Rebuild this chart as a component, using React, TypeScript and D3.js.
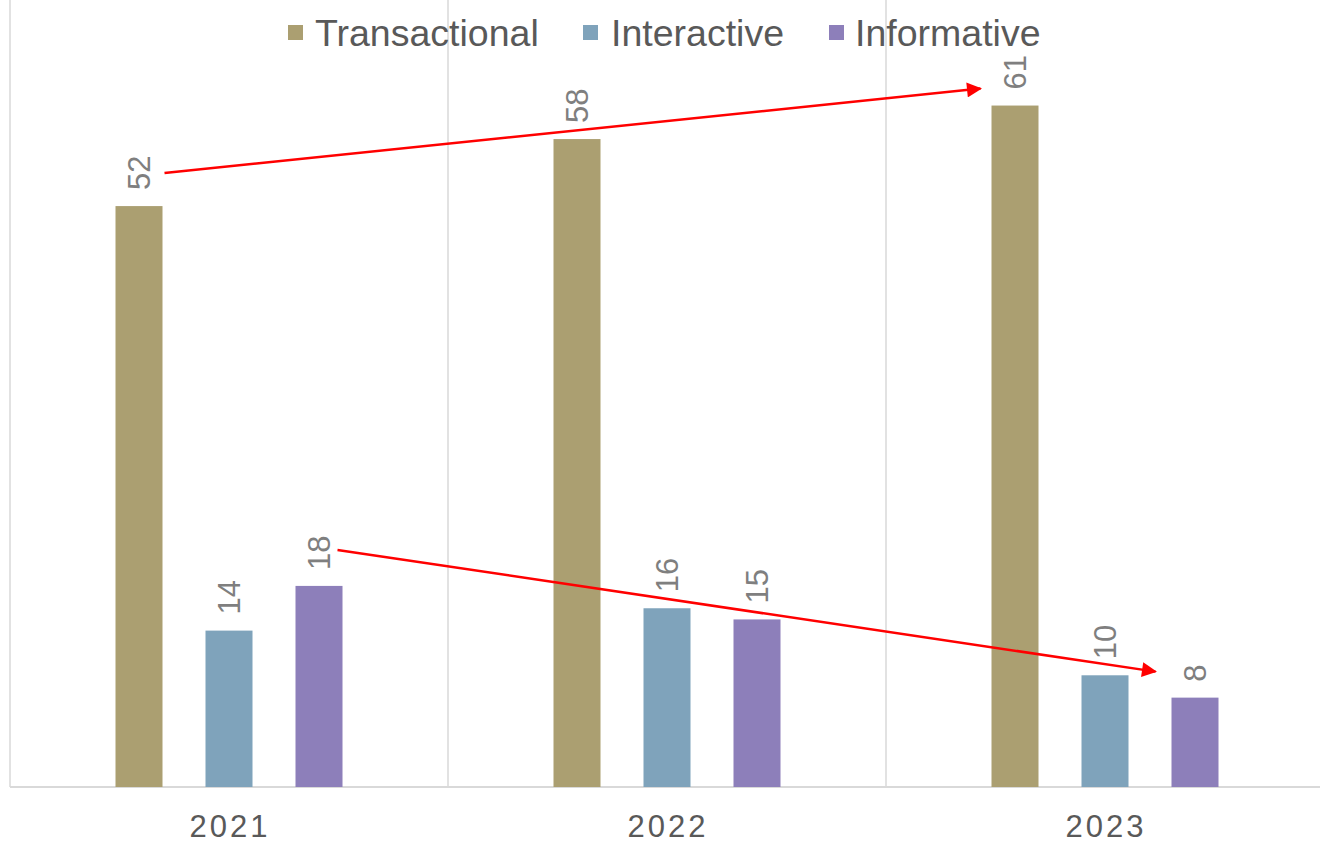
import React from "react";
import * as d3 from "d3";

const years = ["2021", "2022", "2023"];
const seriesNames = ["Transactional", "Interactive", "Informative"];
const transactional = [52, 58, 61];
const interactive = [14, 16, 10];
const informative = [18, 15, 8];
const colors = ["#ab9f71", "#7fa3bb", "#8d7fba"];

const W = 1320;
const H = 843;
const left = 10;
const right = 1324;
const baseY = 787;
const topY = 5;
const yMax = 70;

export default function App() {
  const values = [transactional, interactive, informative];
  const x0 = d3.scaleBand<string>().domain(years).range([left, right]).padding(0);
  const cw = x0.bandwidth();
  const x1 = d3
    .scaleBand<string>()
    .domain(seriesNames)
    .range([105.5, cw - 105.5])
    .paddingInner(43 / 90)
    .paddingOuter(0);
  const bw = x1.bandwidth();
  const y = d3.scaleLinear().domain([0, yMax]).range([baseY, topY]);

  const bx = (yi: number, si: number) => (x0(years[yi]) as number) + (x1(seriesNames[si]) as number);

  const a1 = {
    x1: bx(0, 0) + bw + 2,
    y1: y(transactional[0]) - 33,
    x2: bx(2, 0) - 11,
    y2: y(transactional[2]) - 17,
  };
  const a2 = {
    x1: bx(0, 2) + bw - 5,
    y1: y(informative[0]) - 36,
    x2: bx(2, 2) - 16,
    y2: y(informative[2]) - 26,
  };

  const legendItems = [
    { sq: 288, tx: 315 },
    { sq: 583, tx: 611 },
    { sq: 829, tx: 855 },
  ];

  const gridXs = [...years.map((yr) => x0(yr) as number), right];

  return (
    <div style={{ position: "absolute", left: 0, top: 0 }}>
      <svg width={W} height={H} style={{ display: "block", background: "#fff" }} fontFamily="'Liberation Sans', Arial, sans-serif">
        <defs>
          <marker id="ah" viewBox="0 0 10 10" refX="9" refY="5" markerWidth="6.5" markerHeight="6" orient="auto" markerUnits="strokeWidth">
            <path d="M0,0 L10,5 L0,10 z" fill="#ff0000" />
          </marker>
        </defs>
        {gridXs.map((gx, i) => (
          <line key={i} x1={gx} x2={gx} y1={0} y2={baseY} stroke="#d9d9d9" strokeWidth={1.5} />
        ))}
        <line x1={left} x2={right} y1={baseY} y2={baseY} stroke="#d9d9d9" strokeWidth={2} />
        {years.map((yr, yi) =>
          values.map((vals, si) => {
            const v = vals[yi];
            const x = bx(yi, si);
            return (
              <g key={yr + si}>
                <rect x={x} y={y(v)} width={bw} height={baseY - y(v)} fill={colors[si]} />
                <text
                  transform={`translate(${x + bw / 2 + 11},${y(v) - 16}) rotate(-90)`}
                  fontSize={31}
                  fill="#7f7f7f"
                  textAnchor="start"
                >
                  {v}
                </text>
              </g>
            );
          })
        )}
        {years.map((yr) => (
          <text
            key={yr}
            x={(x0(yr) as number) + cw / 2 + 1}
            y={837}
            textAnchor="middle"
            fontSize={31}
            letterSpacing={3}
            fill="#595959"
          >
            {yr}
          </text>
        ))}
        {seriesNames.map((s, i) => (
          <g key={s}>
            <rect x={legendItems[i].sq} y={25} width={15} height={15} fill={colors[i]} />
            <text x={legendItems[i].tx} y={46} fontSize={37.5} fill="#595959">
              {s}
            </text>
          </g>
        ))}
        {[a1, a2].map((a, i) => (
          <line key={i} x1={a.x1} y1={a.y1} x2={a.x2} y2={a.y2} stroke="#ff0000" strokeWidth={2.5} markerEnd="url(#ah)" />
        ))}
      </svg>
    </div>
  );
}
